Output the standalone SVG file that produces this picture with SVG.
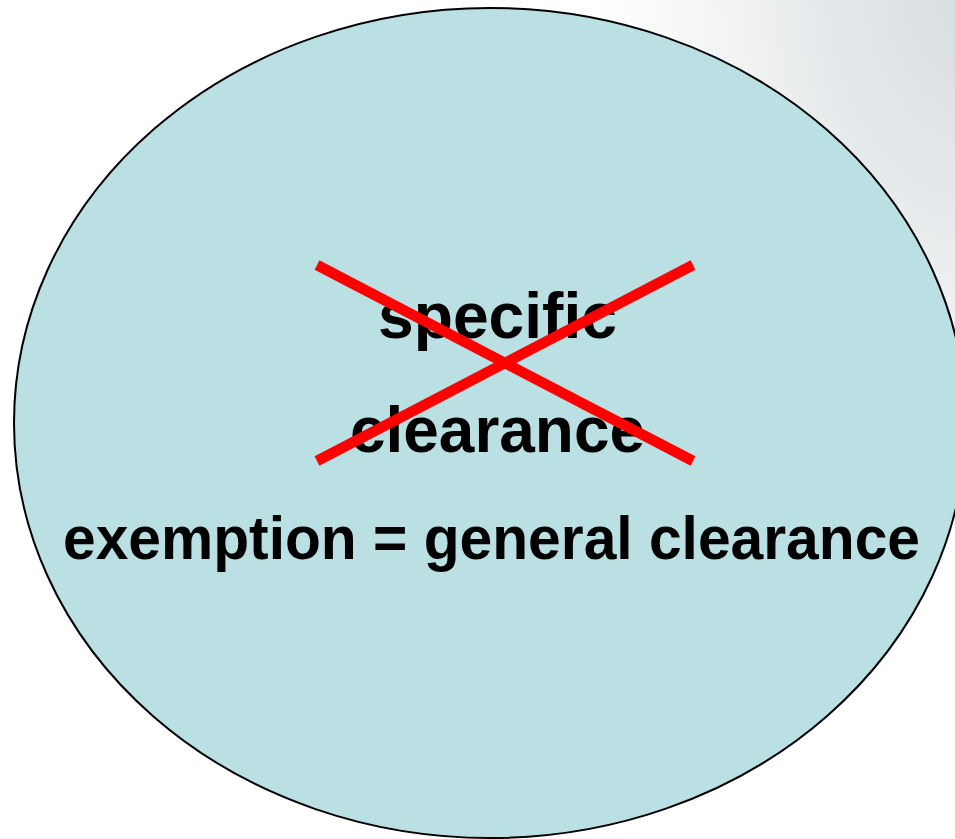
<svg xmlns="http://www.w3.org/2000/svg" width="955" height="839" viewBox="0 0 955 839">
  <style>
    .lbl { font-family: "Liberation Sans", Arial, sans-serif; font-weight: bold; fill: #000000; text-anchor: middle; }
    .cross { stroke: #FF0000; stroke-width: 10.5; stroke-linecap: butt; fill: none; }
  </style>
  <defs>
    <radialGradient id="bg" cx="0" cy="0" r="1" gradientUnits="userSpaceOnUse" gradientTransform="translate(975 -20) scale(380 560)">
      <stop offset="0" stop-color="#D6DBDE"/>
      <stop offset="0.4" stop-color="#E6E9EB"/>
      <stop offset="0.75" stop-color="#F6F7F7"/>
      <stop offset="1" stop-color="#FFFFFF"/>
    </radialGradient>
  </defs>
  <rect x="0" y="0" width="955" height="839" fill="#FFFFFF"/>
  <rect x="0" y="0" width="955" height="839" fill="url(#bg)"/>
  <g id="circle-node">
    <ellipse cx="490" cy="423" rx="476" ry="415" fill="#BBE0E3" stroke="#000000" stroke-width="2"/>
  </g>
  <g id="specific-clearance">
    <text class="lbl" x="497.5" y="338" font-size="64" textLength="239" lengthAdjust="spacingAndGlyphs">specific</text>
    <text class="lbl" x="497.5" y="452" font-size="64" textLength="295" lengthAdjust="spacingAndGlyphs">clearance</text>
  </g>
  <g id="connectors">
    <line class="cross" x1="317" y1="265" x2="693" y2="461"/>
    <line class="cross" x1="317" y1="461" x2="693" y2="265"/>
  </g>
  <g id="exemption">
    <text class="lbl" x="491.5" y="559" font-size="61" textLength="857" lengthAdjust="spacingAndGlyphs">exemption = general clearance</text>
  </g>
</svg>
